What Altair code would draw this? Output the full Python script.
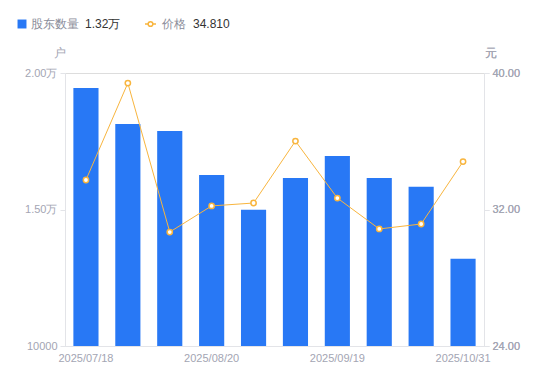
import altair as alt
import pandas as pd

dates = ["2025/07/18", "2025/07/31", "2025/08/10", "2025/08/20", "2025/08/31",
         "2025/09/10", "2025/09/19", "2025/09/30", "2025/10/20", "2025/10/31"]
holders = [19450, 18130, 17880, 16260, 14990, 16150, 16960, 16150, 15830, 13200]
prices = [33.73, 39.41, 30.68, 32.21, 32.38, 36.01, 32.67, 30.86, 31.15, 34.81]
shown_dates = ["2025/07/18", "2025/08/20", "2025/09/19", "2025/10/31"]

legend_names = ["股东数量", "价格"]
legend_values = ["1.32万", "34.810"]

BLUE = "#2878f5"
ORANGE = "#f8b53e"
GRAY = "#a3a5b3"
AXIS = "#e3e4e8"
FONT = "Liberation Sans"

df = pd.DataFrame({"date": dates, "holders": holders, "price": prices})

x = alt.X("date:N", sort=dates, title=None,
          scale=alt.Scale(paddingInner=0.4, paddingOuter=0.2),
          axis=alt.Axis(values=shown_dates, labelAngle=0, ticks=False,
                        domainColor=AXIS, labelColor=GRAY, labelFontSize=11,
                        labelFont=FONT, labelPadding=6))

bars = alt.Chart(df).mark_bar(color=BLUE, clip=True).encode(
    x=x,
    y=alt.Y("holders:Q", scale=alt.Scale(domain=[10000, 20000], nice=False, zero=False),
            title="户",
            axis=alt.Axis(values=[10000, 15000, 20000], grid=False,
                          labelExpr="datum.value >= 15000 ? format(datum.value/10000, '.2f') + '万' : datum.value",
                          domainColor=AXIS, tickColor=AXIS, tickSize=5,
                          labelColor=GRAY, labelFontSize=11, labelFont=FONT, labelPadding=3,
                          titleAngle=0, titleX=-6, titleY=-14, titleAlign="center",
                          titleColor=GRAY, titleFontSize=12, titleFontWeight="normal",
                          titleFont=FONT)),
)

yp = alt.Y("price:Q", scale=alt.Scale(domain=[24, 40], nice=False, zero=False),
           title="元",
           axis=alt.Axis(orient="right", values=[24, 32, 40], format=".2f", grid=False,
                         domainColor=AXIS, tickColor=AXIS, tickSize=5,
                         labelColor=GRAY, labelFontSize=11, labelFont=FONT, labelPadding=3,
                         titleAngle=0, titleX=6, titleY=-14, titleAlign="center",
                         titleColor=GRAY, titleFontSize=12, titleFontWeight="normal",
                         titleFont=FONT))

line = alt.Chart(df).mark_line(color=ORANGE, strokeWidth=1).encode(x=x, y=yp)
pts = alt.Chart(df).mark_point(shape="circle", size=28, filled=True, fill="white",
                               stroke=ORANGE, strokeWidth=1.5, opacity=1).encode(x=x, y=yp)

leg_df = pd.DataFrame({"name": legend_names, "value": legend_values})

leg_sq = alt.Chart(leg_df.iloc[[0]]).mark_square(color=BLUE, size=80, opacity=1).encode(
    x=alt.value(-43), y=alt.value(-49))
leg_name1 = alt.Chart(leg_df.iloc[[0]]).mark_text(align="left", baseline="middle", fontSize=12,
                                                  color="#8a8c99", font=FONT).encode(
    x=alt.value(-34), y=alt.value(-49), text="name:N")
leg_val1 = alt.Chart(leg_df.iloc[[0]]).mark_text(align="left", baseline="middle", fontSize=12,
                                                 color="#333333", font=FONT).encode(
    x=alt.value(20), y=alt.value(-49), text="value:N")
leg_ln = alt.Chart(leg_df.iloc[[1]]).mark_rule(color=ORANGE, strokeWidth=1.5).encode(
    x=alt.value(80), x2=alt.value(91), y=alt.value(-49))
leg_pt = alt.Chart(leg_df.iloc[[1]]).mark_point(shape="circle", size=22, filled=True, fill="white",
                                                stroke=ORANGE, strokeWidth=1.5, opacity=1).encode(
    x=alt.value(85.5), y=alt.value(-49))
leg_name2 = alt.Chart(leg_df.iloc[[1]]).mark_text(align="left", baseline="middle", fontSize=12,
                                                  color="#8a8c99", font=FONT).encode(
    x=alt.value(97), y=alt.value(-49), text="name:N")
leg_val2 = alt.Chart(leg_df.iloc[[1]]).mark_text(align="left", baseline="middle", fontSize=12,
                                                 color="#333333", font=FONT).encode(
    x=alt.value(128), y=alt.value(-49), text="value:N")

chart = alt.layer(
    bars, line, pts, leg_sq, leg_name1, leg_val1, leg_ln, leg_pt, leg_name2, leg_val2
).resolve_scale(y="independent").properties(
    width=419, height=273,
    autosize=alt.AutoSizeParams(type="none"),
    padding={"left": 57, "top": 65, "right": 50, "bottom": 30},
).configure_view(stroke=None).configure(background="white")

chart.save("out.html", embed_options={"renderer": "svg", "actions": False})
